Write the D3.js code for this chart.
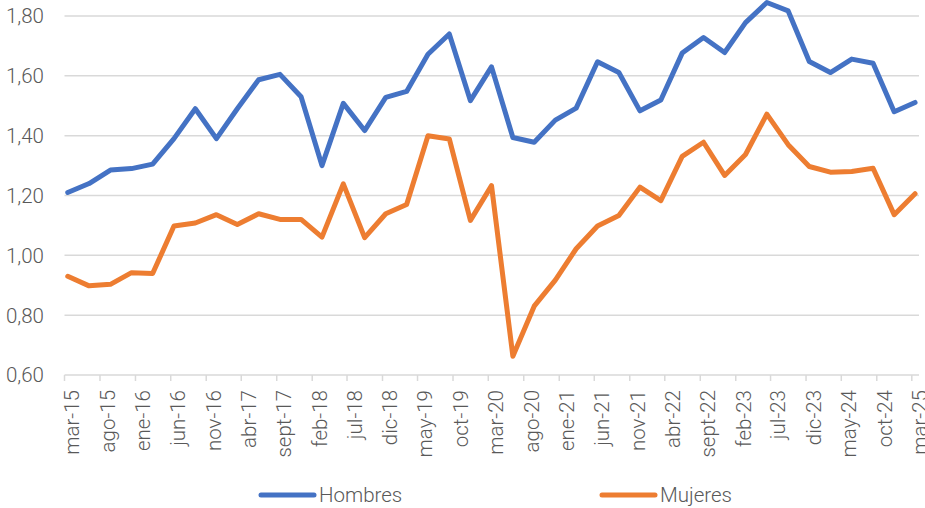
<!DOCTYPE html>
<html><head><meta charset="utf-8">
<script src="https://cdn.jsdelivr.net/npm/d3@7"></script>
<style>
html,body{margin:0;padding:0;background:#fff;}
text{font-family:Roboto,"Noto Sans",sans-serif;font-weight:300;fill:#595959;}
</style></head>
<body><svg id="chart" width="925" height="508"></svg>
<script>
// Quarterly observations, mar-15 .. mar-25
const startYear = 2015, startMonth = 2; // March 2015
const hombres = [1.21,1.24,1.285,1.29,1.305,1.39,1.49,1.39,1.49,1.587,1.605,1.53,1.30,1.508,1.417,1.528,1.548,1.672,1.74,1.517,1.63,1.394,1.378,1.452,1.492,1.647,1.611,1.483,1.519,1.676,1.728,1.678,1.778,1.845,1.817,1.648,1.611,1.656,1.642,1.48,1.511];
const mujeres = [0.93,0.898,0.903,0.942,0.939,1.098,1.108,1.136,1.103,1.139,1.12,1.12,1.061,1.239,1.059,1.139,1.17,1.40,1.389,1.117,1.233,0.663,0.83,0.917,1.022,1.098,1.133,1.228,1.183,1.331,1.378,1.267,1.337,1.472,1.37,1.297,1.278,1.28,1.291,1.136,1.206];
const tickLabels = ["mar-15","ago-15","ene-16","jun-16","nov-16","abr-17","sept-17","feb-18","jul-18","dic-18","may-19","oct-19","mar-20","ago-20","ene-21","jun-21","nov-21","abr-22","sept-22","feb-23","jul-23","dic-23","may-24","oct-24","mar-25"];
const yTicks = [0.6,0.8,1.0,1.2,1.4,1.6,1.8];
const seriesNames = ["Hombres","Mujeres"];
const colors = ["#4472C4","#ED7D31"];

const svg = d3.select("#chart");
const x = d3.scaleTime()
  .domain([new Date(2015,2,1), new Date(2025,3,1)])
  .range([64.5, 919]);
const y = d3.scaleLinear().domain([0.6,1.8]).range([375,16]);

const dates = hombres.map((_,i)=> new Date(startYear, startMonth + 3*i, 15));
const tickDates = tickLabels.map((_,i)=> new Date(startYear, startMonth + 5*i, 1));
const FS = "20.5px";

// gridlines
svg.append("g").selectAll("line").data(yTicks).join("line")
  .attr("x1", x.range()[0]).attr("x2", x.range()[1])
  .attr("y1", d=>y(d)).attr("y2", d=>y(d))
  .attr("stroke","#d9d9d9").attr("stroke-width",1.5);

// y labels
svg.append("g").selectAll("text").data(yTicks).join("text")
  .attr("x", 44).attr("y", d=>y(d)).attr("dy","0.36em")
  .attr("text-anchor","end").style("font-size",FS)
  .text(d=>d3.format(".2f")(d).replace(".",","));

// x axis ticks
const xg = svg.append("g");
xg.selectAll("line").data(tickDates).join("line")
  .attr("x1", d=>x(d)).attr("x2", d=>x(d))
  .attr("y1", y(0.6)).attr("y2", y(0.6)+6)
  .attr("stroke","#d9d9d9").attr("stroke-width",1.5);
xg.selectAll("text").data(tickDates).join("text")
  .attr("transform", d=>`translate(${x(d)},${y(0.6)+15}) rotate(-90)`)
  .attr("text-anchor","end").attr("dy","0.72em")
  .style("font-size",FS)
  .text((d,i)=>tickLabels[i]);

// lines
const line = d3.line().x((d,i)=>x(dates[i])).y(d=>y(d));
[hombres, mujeres].forEach((s,k)=>{
  svg.append("path").datum(s)
    .attr("d", line).attr("fill","none")
    .attr("stroke", colors[k]).attr("stroke-width",5)
    .attr("stroke-linejoin","round").attr("stroke-linecap","round");
});

// legend
const legX = [261, 602];
seriesNames.forEach((n,k)=>{
  const g = svg.append("g");
  g.append("line").attr("x1",legX[k]).attr("x2",legX[k]+53)
    .attr("y1",495).attr("y2",495)
    .attr("stroke",colors[k]).attr("stroke-width",5).attr("stroke-linecap","round");
  g.append("text").attr("x",legX[k]+58).attr("y",495).attr("dy","0.36em")
    .style("font-size",FS).text(n);
});
</script></body></html>
